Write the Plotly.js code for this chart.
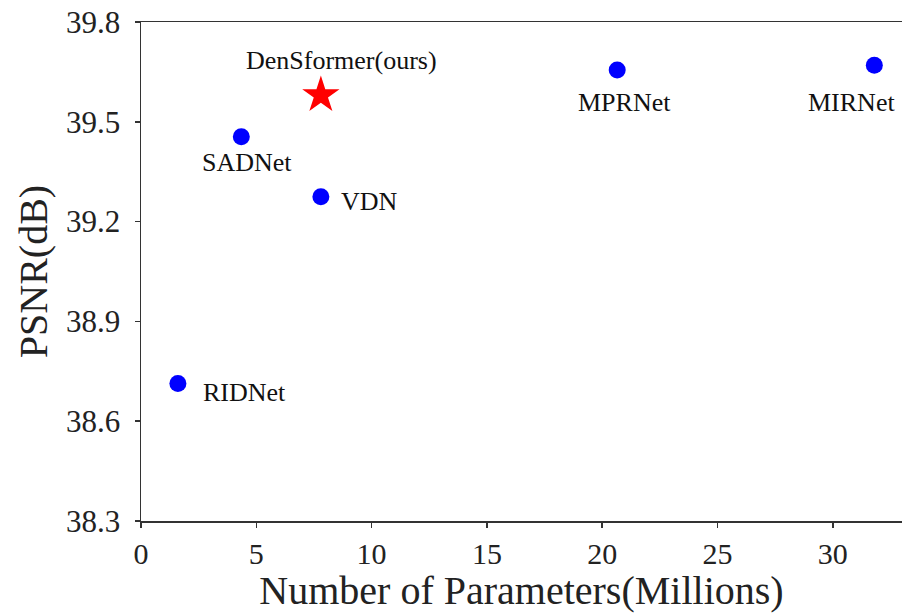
<!DOCTYPE html>
<html>
<head>
<meta charset="utf-8">
<script src="https://cdn.plot.ly/plotly-3.0.1.min.js"></script>
<style>html,body{margin:0;padding:0;background:#fff;}#chart{width:902px;height:613px;}</style>
</head>
<body>
<div id="chart"></div>
<script>
// Data
const methods = ["RIDNet", "SADNet", "VDN", "MPRNet", "MIRNet"];
const params = [1.6, 4.35, 7.8, 20.65, 31.8];
const psnr = [38.713, 39.455, 39.275, 39.656, 39.67];
const oursName = "DenSformer(ours)";
const oursParams = [7.8];
const oursPsnr = [39.58];

// Label offsets (pixels) per label
const labelShift = {
  "RIDNet": [67, -9],
  "SADNet": [6, -26],
  "VDN": [49, -5],
  "MPRNet": [7, -33],
  "MIRNet": [-23, -37],
  "DenSformer(ours)": [21, 35]
};

const font = "Liberation Serif";

const traces = [
  {
    x: params, y: psnr, mode: "markers", type: "scatter",
    marker: {color: "#0000ff", size: 17, symbol: "circle"},
    showlegend: false, hoverinfo: "skip"
  },
  {
    x: oursParams, y: oursPsnr, mode: "markers", type: "scatter",
    marker: {color: "#ff0000", size: 28, symbol: "star"},
    showlegend: false, hoverinfo: "skip"
  }
];

const annotations = methods.map((m, i) => ({
  x: params[i], y: psnr[i], xref: "x", yref: "y", text: m, showarrow: false,
  xshift: labelShift[m][0], yshift: labelShift[m][1],
  font: {family: font, size: 26, color: "#111"}
}));
annotations.push({
  x: oursParams[0], y: oursPsnr[0], xref: "x", yref: "y", text: oursName, showarrow: false,
  xshift: labelShift[oursName][0], yshift: labelShift[oursName][1],
  font: {family: font, size: 26, color: "#111"}
});

const layout = {
  width: 902, height: 613,
  margin: {l: 141, r: 0, t: 22, b: 92},
  paper_bgcolor: "#fff", plot_bgcolor: "#fff",
  font: {family: font, color: "#222"},
  xaxis: {
    range: [0, 33.0], tickvals: [0, 5, 10, 15, 20, 25, 30],
    showgrid: false, zeroline: false,
    showline: true, linecolor: "#333", linewidth: 1.5, mirror: true,
    ticks: "outside", ticklen: 5, tickwidth: 1.5, tickcolor: "#333",
    tickfont: {family: font, size: 30, color: "#222"},
    title: {text: "Number of Parameters(Millions)", font: {family: font, size: 40, color: "#222"}, standoff: 2}
  },
  yaxis: {
    range: [38.3, 39.8], tickvals: [38.3, 38.6, 38.9, 39.2, 39.5, 39.8],
    ticktext: ["38.3", "38.6", "38.9", "39.2", "39.5", "39.8"],
    showgrid: false, zeroline: false,
    showline: true, linecolor: "#333", linewidth: 1.5, mirror: false,
    ticks: "outside", ticklen: 5, tickwidth: 1.5, tickcolor: "#333",
    ticklabelstandoff: 8,
    tickfont: {family: font, size: 31, color: "#222"},
    title: {text: "PSNR(dB)", font: {family: font, size: 40, color: "#222"}, standoff: 6}
  },
  annotations: annotations
};

Plotly.newPlot("chart", traces, layout, {displayModeBar: false, staticPlot: true});
</script>
</body>
</html>
